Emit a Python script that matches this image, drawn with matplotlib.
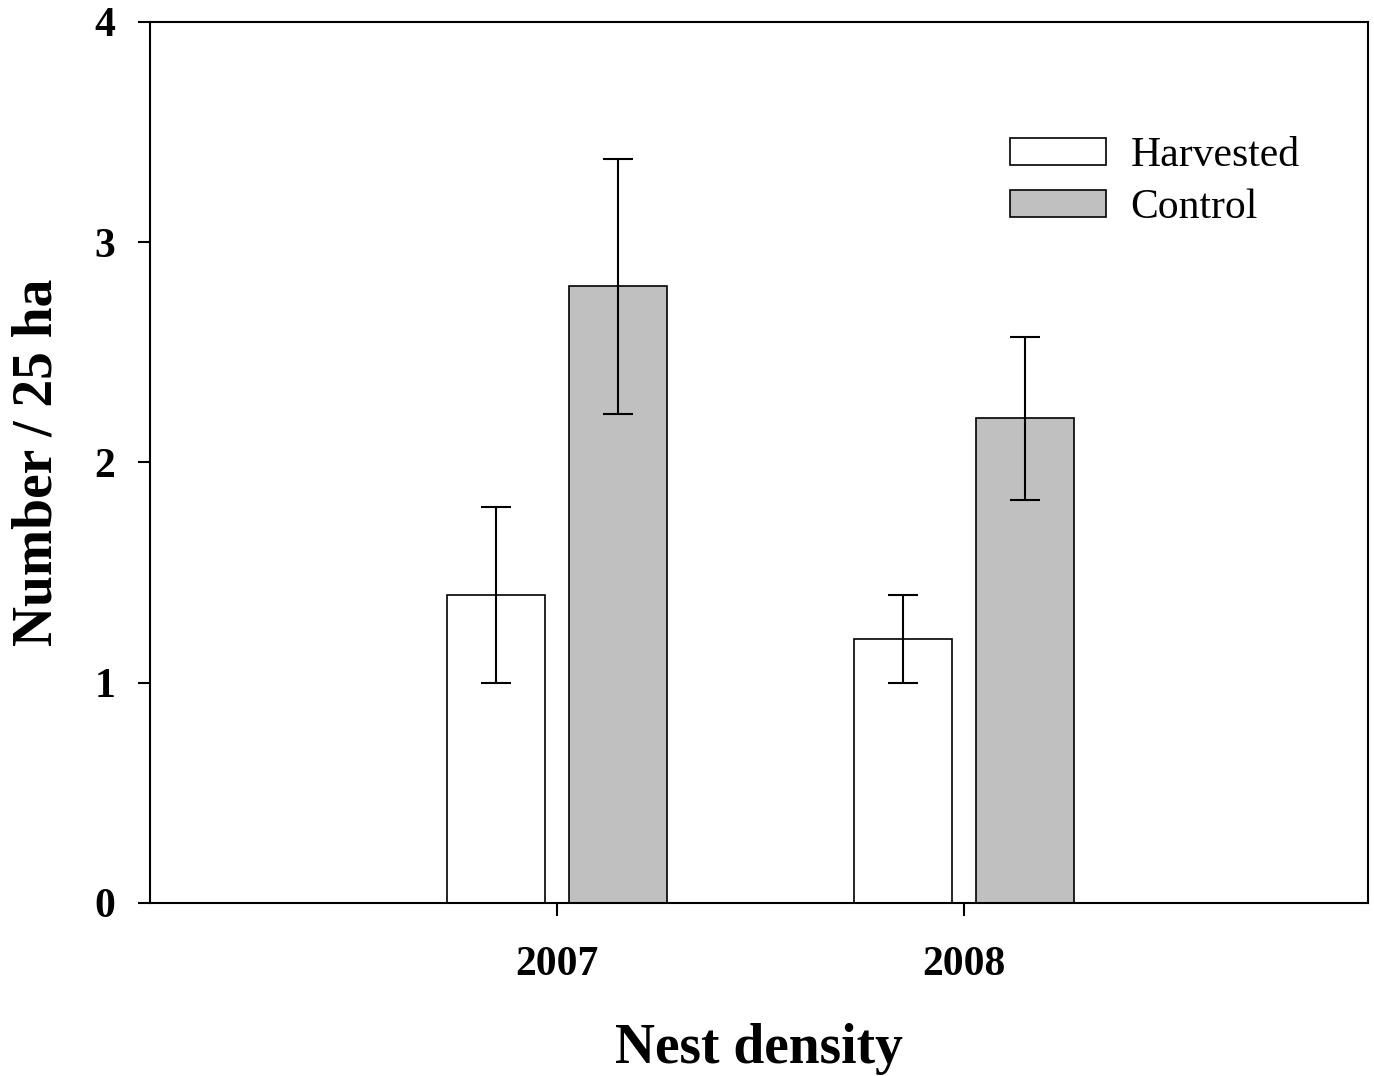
import numpy as np
import matplotlib
matplotlib.use('Agg')
import matplotlib.pyplot as plt

# values
years = ['2007', '2008']
harvested = [1.4, 1.2]
harvested_err = [0.4, 0.2]
control = [2.8, 2.2]
control_err_low = [0.58, 0.37]
control_err_high = [0.58, 0.37]

plt.rcParams['font.family'] = ['Liberation Serif', 'DejaVu Serif']

fig = plt.figure(figsize=(13.74, 10.76), dpi=100)
ax = fig.add_axes([0.1092, 0.1608, 0.8864, 0.8188])

x = np.arange(len(years))
width = 0.24
offset = 0.15

ax.bar(x - offset, harvested, width, color='white', edgecolor='black', linewidth=1.2,
       label='Harvested', zorder=2)
ax.bar(x + offset, control, width, color='#c0c0c0', edgecolor='black', linewidth=1.2,
       label='Control', zorder=2)

ax.errorbar(x - offset, harvested, yerr=harvested_err, fmt='none', ecolor='black',
            elinewidth=1.5, capsize=11, capthick=1.5, zorder=3)
ax.errorbar(x + offset, control, yerr=[control_err_low, control_err_high], fmt='none',
            ecolor='black', elinewidth=1.5, capsize=11, capthick=1.5, zorder=3)

ax.set_xlim(-1, 1.993)
ax.set_ylim(0, 4)
ax.set_xticks(x)
ax.set_xticklabels(years)
ax.set_yticks([0, 1, 2, 3, 4])

for spine in ax.spines.values():
    spine.set_linewidth(1.5)

ax.tick_params(axis='both', direction='out', length=9, width=1.5, labelsize=30)
ax.tick_params(axis='x', pad=22)
ax.tick_params(axis='y', pad=16)
for lbl in ax.get_xticklabels() + ax.get_yticklabels():
    lbl.set_fontweight('bold')

ax.set_xlabel('Nest density', fontsize=40, fontweight='bold', labelpad=28)
ax.set_ylabel('Number / 25 ha', fontsize=40, fontweight='bold', labelpad=22)

ax.legend(loc='upper left', bbox_to_anchor=(0.706, 0.87), frameon=False, fontsize=30,
          handlelength=2.3, handleheight=0.62, handletextpad=0.6, labelspacing=0.32,
          borderpad=0, borderaxespad=0)

fig.savefig('out.png', dpi=100)
